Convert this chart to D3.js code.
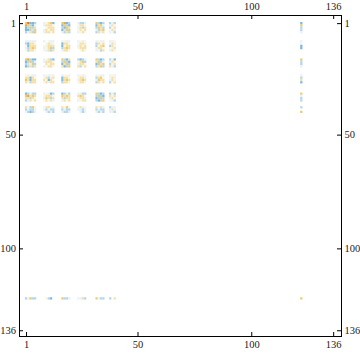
<!DOCTYPE html>
<html>
<head>
<meta charset="utf-8">
<title>matrix plot</title>
<script src="https://cdn.jsdelivr.net/npm/d3@7"></script>
<style>
  body{margin:0;background:#fff;}
  .ax text{font-family:"Liberation Serif","DejaVu Serif",serif;font-size:10.5px;fill:#222;}
</style>
</head>
<body>
<div id="container"></div>
<script>
  // matrix is 136 x 136, only these rows / columns carry non-zero entries
  var size = 136;
  var nonZero = [1,2,3,4,5, 9,10,11,12,13, 17,18,19,20, 24,25,26,27, 32,33,34,35, 38,39,40, 122];

  // one string per row of nonZero, one letter per column of nonZero
  var cellCodes = [
    "YRBBb" + "cwyYB" + "YOBb" + "cbbc" + "YbBb" + "bcb" + "B",
    "OYbBc" + "cyyyw" + "BYbB" + "wyyw" + "ByYc" + "cyw" + "Y",
    "BbYby" + ".wyyy" + "bBYy" + "cyby" + "bYyb" + "bwy" + "b",
    "BBbyb" + "cywyy" + "BybY" + "wywy" + "cbyY" + "wyc" + "b",
    "bcybY" + "cyywy" + "cbyb" + "cwyw" + "bycy" + "cwb" + "c",
    "ccccc" + "c.wcc" + "cwcc" + "cwcw" + "cwcc" + "ccw" + "c",
    "bByyw" + ".wycw" + "Byyw" + "wyyc" + "bywy" + "wyc" + "w",
    "wByyy" + "wcyyy" + "Bwyy" + "cywy" + "bwyY" + "byw" + "B",
    "cbyYy" + "cwyYb" + "byYy" + "wyyy" + "cyyw" + "wcy" + "B",
    "wbyyw" + "wcyby" + "cyyw" + ".wyw" + "cwby" + "cyw" + ".",
    "YObBB" + "cwybB" + "YbBy" + "bBbc" + "YbBb" + "bcB" + "Y",
    "BbYbc" + "cyyyw" + "bYbB" + "wyYb" + "yYbc" + "cyw" + "b",
    "bycYb" + ".ywyy" + "ByYb" + "cyyw" + "BbyY" + "bwy" + "b",
    "Bbyby" + "cwyyw" + "yBbY" + "ybwy" + "byYb" + "ycb" + "c",
    "wcwcc" + "cwcwc" + "cwwc" + "cwcw" + "cwcc" + "cwc" + "c",
    "yyByw" + "wybcy" + "Byyw" + "wyyc" + "byYw" + "wyc" + "b",
    "YyByy" + "ywByw" + "ByYy" + "cyYy" + "cYyy" + "cyw" + "y",
    "ywbyy" + "wycyy" + "byyw" + "wyyw" + "bywy" + "bwy" + "B",
    "Bbcbb" + "cwcBb" + "Bbcb" + "ccbb" + "YbBb" + "bcb" + "Y",
    "YOyYy" + "wyyyw" + "YyYy" + "yYyw" + "bYbB" + "ywy" + "c",
    "yybyw" + "cYyby" + "ybyy" + "wyyc" + "BbYb" + "cyw" + "b",
    "bcywy" + "wywyc" + "cywy" + "cwyy" + "bBbY" + "wcb" + "b",
    "ywbYw" + "wyywc" + "ywYw" + "wycw" + "ywyc" + "bcc" + "b",
    "bcbbc" + "cbwbb" + "bcbb" + "ccbc" + "bcbb" + "cyc" + ".",
    "cbBbc" + ".cbcb" + "cbbc" + ".cbc" + "cbcb" + "ccb" + "Y",
    "bcYbb" + ".wbB." + "Ybbc" + "ccyb" + "Ycbb" + "b.y" + "Y"
  ];

  // approximate value of each letter
  var codeValue = {"D":-1, "B":-0.6, "b":-0.3, "c":-0.1, ".":0, "w":0.1, "y":0.3, "Y":0.6, "O":0.85, "R":1};

  var tickVals = [1, 50, 100, 136];

  var W = 360, H = 353;
  var frame = {left:19.5, top:15.5, right:341.5, bottom:336.5};

  var svg = d3.select("#container").append("svg")
      .attr("width", W)
      .attr("height", H);

  var xScale = d3.scaleLinear().domain([0.5, size + 0.5]).range([24.9, 334.3]);
  var yScale = d3.scaleLinear().domain([0.5, size + 0.5]).range([22.0, 331.4]);

  var color = d3.scaleLinear()
      .domain([-1, -0.6, -0.3, 0, 0.3, 0.6, 0.85, 1])
      .range(["#5e9fd0", "#80b8da", "#b3d6ea", "#ffffff", "#f4e0a8", "#edca6e", "#e9a340", "#e07424"])
      .clamp(true);

  var cells = [];
  cellCodes.forEach(function(row, i){
    row.split("").forEach(function(ch, j){
      var v = codeValue[ch];
      if(v != 0) cells.push({r: nonZero[i], c: nonZero[j], v: v});
    });
  });

  svg.append("g").selectAll("rect")
      .data(cells)
      .enter().append("rect")
      .attr("x", d => xScale(d.c - 0.5))
      .attr("y", d => yScale(d.r - 0.5))
      .attr("width", xScale(1.5) - xScale(0.5))
      .attr("height", yScale(1.5) - yScale(0.5))
      .attr("fill", d => color(d.v));

  svg.append("rect")
      .attr("x", frame.left)
      .attr("y", frame.top)
      .attr("width", frame.right - frame.left)
      .attr("height", frame.bottom - frame.top)
      .attr("fill", "none")
      .attr("stroke", "#000")
      .attr("stroke-width", 1);

  var axes = [
    {ax: d3.axisTop(xScale).tickPadding(5.5), t: "translate(0," + (frame.top - 0.5) + ")"},
    {ax: d3.axisBottom(xScale).tickPadding(4.5), t: "translate(0," + (frame.bottom - 0.5) + ")"},
    {ax: d3.axisLeft(yScale).tickPadding(3), t: "translate(" + (frame.left - 0.5) + ",0)"},
    {ax: d3.axisRight(yScale).tickPadding(3.5), t: "translate(" + (frame.right - 0.5) + ",0)"}
  ];

  axes.forEach(function(a){
    var g = svg.append("g")
        .attr("class", "ax")
        .attr("transform", a.t)
        .call(a.ax.tickValues(tickVals).tickSize(-4).tickFormat(d3.format("d")));
    g.select(".domain").remove();
    g.selectAll(".tick line").attr("stroke", "#000");
    g.selectAll(".tick text").attr("font-family", null).attr("font-size", null);
  });
</script>
</body>
</html>
